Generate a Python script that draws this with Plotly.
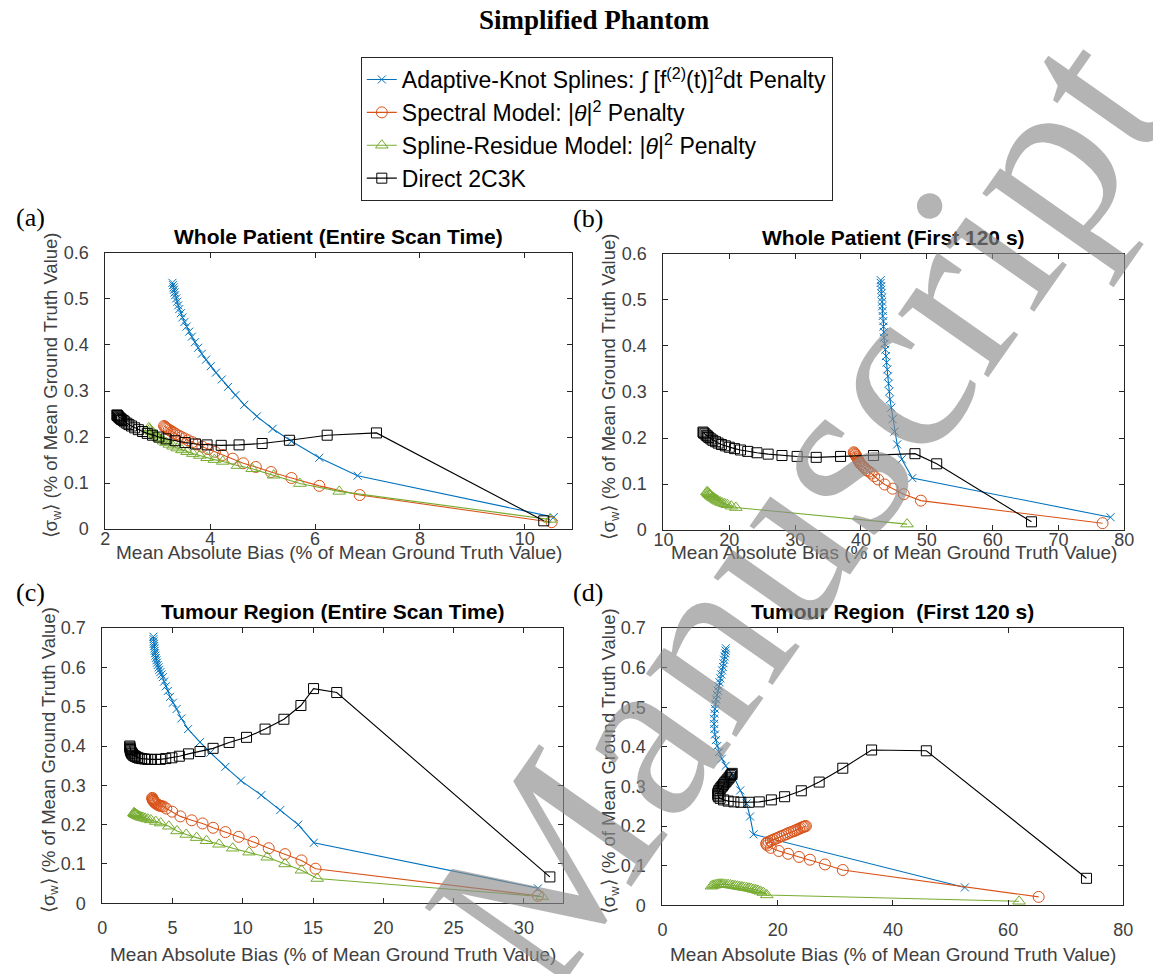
import plotly.graph_objects as go

# ---------------- data ----------------
series_names = [
    "Adaptive-Knot Splines: \u222B [f<sup>(2)</sup>(t)]<sup>2</sup>dt Penalty",
    "Spectral Model: |<i>\u03B8</i>|<sup>2</sup> Penalty",
    "Spline-Residue Model: |<i>\u03B8</i>|<sup>2</sup> Penalty",
    "Direct 2C3K",
]
panel_titles = [
    "Whole Patient (Entire Scan Time)",
    "Whole Patient (First 120 s)",
    "Tumour Region (Entire Scan Time)",
    "Tumour Region  (First 120 s)",
]
panel_labels = ["(a)", "(b)", "(c)", "(d)"]

# (a) Whole patient, entire scan
a_spl_x = [3.28,3.29,3.30,3.31,3.32,3.33,3.35,3.37,3.39,3.41,3.44,3.47,3.51,3.55,3.60,3.65,3.71,3.77,3.84,3.92,4.01,4.11,4.22,4.34,4.48,4.65,4.89,5.19,5.55,6.08,6.81,10.55]
a_spl_y = [0.535,0.530,0.525,0.520,0.514,0.508,0.501,0.494,0.486,0.478,0.469,0.460,0.450,0.440,0.429,0.418,0.406,0.394,0.381,0.368,0.354,0.340,0.325,0.309,0.291,0.270,0.245,0.218,0.191,0.155,0.116,0.026]
a_spec_x = [3.12,3.14,3.16,3.18,3.21,3.24,3.27,3.31,3.35,3.40,3.45,3.51,3.58,3.66,3.75,3.85,3.96,4.09,4.24,4.43,4.63,4.87,5.16,5.55,6.08,6.85,10.51]
a_spec_y = [0.224,0.222,0.220,0.218,0.216,0.214,0.212,0.209,0.206,0.203,0.200,0.197,0.193,0.189,0.184,0.179,0.174,0.168,0.161,0.153,0.143,0.135,0.124,0.111,0.094,0.074,0.015]
a_res_x = [2.83,2.85,2.87,2.89,2.92,2.95,2.98,3.02,3.06,3.11,3.16,3.22,3.29,3.37,3.46,3.56,3.67,3.80,3.94,4.08,4.24,4.52,4.80,5.21,5.71,6.46,10.48]
a_res_y = [0.220,0.217,0.214,0.211,0.208,0.205,0.202,0.198,0.195,0.191,0.188,0.184,0.180,0.176,0.172,0.168,0.164,0.160,0.155,0.151,0.147,0.138,0.131,0.117,0.099,0.082,0.021]
a_dir_x = [2.22,2.23,2.24,2.25,2.27,2.29,2.31,2.34,2.37,2.41,2.45,2.50,2.56,2.63,2.71,2.80,2.90,3.02,3.16,3.33,3.52,3.72,3.94,4.21,4.55,4.99,5.51,6.23,7.17,10.36]
a_dir_y = [0.248,0.247,0.246,0.244,0.242,0.240,0.238,0.236,0.233,0.230,0.227,0.224,0.220,0.216,0.212,0.208,0.204,0.200,0.196,0.192,0.188,0.185,0.183,0.182,0.183,0.186,0.193,0.204,0.209,0.018]

# (b) Whole patient, first 120 s
b_spl_x = [43.0,43.0,43.1,43.1,43.1,43.2,43.2,43.2,43.3,43.3,43.4,43.4,43.5,43.5,43.6,43.7,43.8,43.9,44.0,44.1,44.2,44.3,44.4,44.6,44.8,45.1,45.5,46.2,47.8,77.9]
b_spl_y = [0.543,0.537,0.530,0.522,0.514,0.505,0.496,0.486,0.476,0.465,0.454,0.442,0.430,0.418,0.405,0.392,0.378,0.364,0.349,0.334,0.318,0.301,0.284,0.266,0.241,0.214,0.186,0.154,0.113,0.028]
b_spec_x = [38.9,39.0,39.1,39.2,39.3,39.4,39.5,39.6,39.7,39.8,40.0,40.2,40.4,40.6,40.9,41.2,41.6,42.0,42.6,43.6,44.8,46.5,49.1,76.7]
b_spec_y = [0.169,0.167,0.165,0.163,0.160,0.158,0.155,0.152,0.149,0.146,0.143,0.140,0.137,0.134,0.130,0.127,0.123,0.117,0.110,0.099,0.090,0.078,0.064,0.015]
b_res_x = [16.6,16.7,16.8,16.9,17.0,17.1,17.2,17.4,17.5,17.7,17.9,18.1,18.3,18.6,18.9,19.3,19.7,20.3,21.0,47.0]
b_res_y = [0.083,0.082,0.080,0.079,0.077,0.076,0.074,0.072,0.071,0.069,0.067,0.065,0.063,0.061,0.059,0.057,0.055,0.052,0.049,0.013]
b_dir_x = [16.0,16.1,16.3,16.5,16.7,16.9,17.2,17.5,17.9,18.3,18.8,19.4,20.0,20.8,21.7,22.8,24.2,25.9,28.0,30.3,33.2,36.9,41.9,48.2,51.5,65.9]
b_dir_y = [0.213,0.211,0.209,0.206,0.204,0.201,0.198,0.195,0.192,0.189,0.186,0.183,0.180,0.177,0.174,0.171,0.168,0.165,0.162,0.160,0.158,0.160,0.162,0.166,0.144,0.018]

# (c) Tumour region, entire scan
c_spl_x = [3.63,3.64,3.65,3.66,3.68,3.70,3.72,3.75,3.78,3.81,3.85,3.89,3.94,4.00,4.06,4.13,4.21,4.30,4.40,4.52,4.66,4.82,5.02,5.28,5.62,6.10,6.95,7.69,8.76,9.86,11.31,12.66,13.94,15.05,31.0]
c_spl_y = [0.678,0.672,0.666,0.660,0.654,0.648,0.642,0.636,0.630,0.624,0.618,0.612,0.606,0.600,0.594,0.588,0.582,0.575,0.564,0.552,0.540,0.525,0.510,0.494,0.470,0.443,0.410,0.383,0.347,0.312,0.275,0.237,0.200,0.154,0.038]
c_spec_x = [3.55,3.56,3.58,3.60,3.62,3.65,3.68,3.72,3.76,3.81,3.87,3.94,4.02,4.11,4.22,4.36,4.55,4.97,5.55,6.36,7.13,7.88,8.76,9.70,10.75,11.84,13.0,14.17,15.17,31.0]
c_spec_y = [0.268,0.266,0.264,0.263,0.261,0.260,0.258,0.257,0.255,0.254,0.252,0.251,0.249,0.248,0.247,0.246,0.241,0.233,0.221,0.211,0.203,0.192,0.181,0.169,0.156,0.140,0.125,0.109,0.088,0.019]
c_res_x = [2.25,2.27,2.30,2.33,2.37,2.42,2.48,2.55,2.64,2.75,2.88,3.04,3.23,3.45,3.80,4.15,4.73,5.31,5.97,6.71,7.41,8.30,9.28,10.44,11.73,13.0,14.17,15.29,31.3]
c_res_y = [0.230,0.229,0.228,0.227,0.226,0.225,0.224,0.222,0.221,0.219,0.218,0.216,0.214,0.212,0.208,0.204,0.196,0.184,0.175,0.167,0.159,0.150,0.140,0.130,0.117,0.100,0.084,0.063,0.017]
c_dir_x = [1.95,1.96,1.97,1.99,2.01,2.04,2.08,2.13,2.19,2.27,2.37,2.49,2.63,2.80,3.00,3.23,3.49,3.79,4.13,4.51,4.95,5.48,6.13,6.95,7.88,9.02,10.26,11.58,12.92,14.13,15.03,16.68,31.85]
c_dir_y = [0.400,0.397,0.394,0.391,0.388,0.385,0.382,0.380,0.377,0.375,0.373,0.371,0.369,0.368,0.367,0.366,0.366,0.366,0.366,0.368,0.370,0.374,0.380,0.386,0.394,0.409,0.422,0.443,0.468,0.503,0.546,0.536,0.067]

# (d) Tumour region, first 120 s
d_spl_x = [11.0,10.95,10.9,10.8,10.7,10.6,10.5,10.35,10.2,10.05,9.9,9.75,9.6,9.45,9.3,9.2,9.1,9.0,8.95,8.95,9.0,9.1,9.27,9.5,9.84,10.3,10.97,12.3,13.5,14.6,15.2,15.8,52.5]
d_spl_y = [0.649,0.643,0.636,0.628,0.620,0.611,0.602,0.593,0.583,0.573,0.563,0.553,0.542,0.531,0.520,0.508,0.496,0.484,0.471,0.458,0.445,0.431,0.417,0.402,0.387,0.370,0.352,0.327,0.290,0.257,0.224,0.179,0.045]
d_spec_x = [24.9,24.7,24.5,24.3,24.0,23.7,23.4,23.1,22.8,22.4,22.0,21.6,21.2,20.8,20.4,20.0,19.6,19.2,18.8,18.4,18.1,18.0,18.2,18.8,20.2,21.8,23.7,25.6,28.2,31.3,65.3]
d_spec_y = [0.200,0.199,0.198,0.197,0.195,0.193,0.191,0.189,0.187,0.185,0.183,0.180,0.178,0.175,0.173,0.170,0.168,0.165,0.163,0.160,0.158,0.155,0.151,0.145,0.137,0.130,0.122,0.115,0.103,0.089,0.021]
d_res_x = [8.5,8.8,9.1,9.4,9.7,10.0,10.3,10.6,11.0,11.4,11.8,12.2,12.6,13.0,13.4,13.8,14.2,14.6,15.0,15.4,15.8,16.2,16.6,17.0,17.5,18.1,61.9]
d_res_y = [0.048,0.050,0.051,0.052,0.053,0.053,0.053,0.053,0.052,0.052,0.051,0.050,0.049,0.048,0.047,0.046,0.045,0.044,0.043,0.042,0.040,0.039,0.037,0.035,0.032,0.026,0.010]
d_dir_x = [12.1,12.0,11.8,11.6,11.4,11.2,11.0,10.8,10.6,10.4,10.2,10.0,9.8,9.7,9.6,9.6,9.7,10.0,10.6,11.4,12.4,13.6,15.0,16.8,18.9,21.2,24.1,27.2,31.3,36.3,45.8,73.6]
d_dir_y = [0.333,0.330,0.327,0.323,0.319,0.316,0.312,0.309,0.305,0.301,0.298,0.294,0.290,0.286,0.282,0.278,0.274,0.270,0.266,0.263,0.261,0.260,0.260,0.261,0.266,0.274,0.289,0.311,0.346,0.392,0.390,0.068]

panels = [
    [(a_spl_x, a_spl_y), (a_spec_x, a_spec_y), (a_res_x, a_res_y), (a_dir_x, a_dir_y)],
    [(b_spl_x, b_spl_y), (b_spec_x, b_spec_y), (b_res_x, b_res_y), (b_dir_x, b_dir_y)],
    [(c_spl_x, c_spl_y), (c_spec_x, c_spec_y), (c_res_x, c_res_y), (c_dir_x, c_dir_y)],
    [(d_spl_x, d_spl_y), (d_spec_x, d_spec_y), (d_res_x, d_res_y), (d_dir_x, d_dir_y)],
]
for p in panels:
    for sx, sy in p:
        assert len(sx) == len(sy)

x_ranges = [[2, 10.9], [10, 80], [0, 32.8], [0, 80]]
x_dticks = [2, 10, 5, 20]
y_ranges = [[0, 0.6], [0, 0.6], [0, 0.7], [0, 0.7]]

# ---------------- styling ----------------
W, H = 1153, 974
colors = ["#0072BD", "#D95319", "#77AC30", "#000000"]
symbols = ["x-thin", "circle-open", "triangle-up-open", "square-open"]
msizes = [8, 11, 11, 10]
axis_col = "#262626"
txt_col = "#404040"
font_sans = "Liberation Sans, Arial, sans-serif"
font_serif = "Liberation Serif, Times New Roman, serif"

# plot-area boxes in pixels: left, right, top, bottom
boxes = [(97, 572, 248, 530), (665, 1134, 249, 531), (94, 563, 631, 912), (664, 1133, 631, 914)]
xtitle_y = [554, 554, 964, 964]
xtick_standoff = [-7, -7, 8, 8]

fig = go.Figure()
layout = dict(
    width=W, height=H, margin=dict(l=0, r=0, t=0, b=0),
    paper_bgcolor="white", plot_bgcolor="white",
    font=dict(family=font_sans, color=axis_col),
    showlegend=True,
)
annotations = []
ytitle = "\u27E8\u03C3<sub>w</sub>\u27E9 (% of Mean Ground Truth Value)"
xtitle = "Mean Absolute Bias (% of Mean Ground Truth Value)"

for i, p in enumerate(panels):
    xa = "x" if i == 0 else f"x{i+1}"
    ya = "y" if i == 0 else f"y{i+1}"
    for j, (sx, sy) in enumerate(p):
        mk = dict(symbol=symbols[j], size=msizes[j], color=colors[j],
                  line=dict(color=colors[j], width=1))
        fig.add_trace(go.Scatter(
            x=sx, y=sy, mode="lines+markers", xaxis=xa, yaxis=ya,
            line=dict(color=colors[j], width=1.1), marker=mk,
            name=series_names[j], showlegend=(i == 0),
        ))
    l, r, t, b = boxes[i]
    common = dict(showline=True, mirror="allticks", linecolor=axis_col, linewidth=1,
                  ticks="inside", ticklen=5, tickcolor=axis_col, tickwidth=1,
                  showgrid=False, zeroline=False,
                  tickfont=dict(family=font_sans, size=18, color=txt_col))
    layout["xaxis" if i == 0 else f"xaxis{i+1}"] = dict(
        domain=[l / W, r / W], anchor=ya, range=x_ranges[i], dtick=x_dticks[i], tick0=0,
        ticklabelstandoff=xtick_standoff[i], **common)
    layout["yaxis" if i == 0 else f"yaxis{i+1}"] = dict(
        domain=[1 - b / H, 1 - t / H], anchor=xa, range=y_ranges[i], dtick=0.1, tick0=0,
        ticklabelstandoff=12, **common)
    # x title
    annotations.append(dict(text=xtitle, xref="paper", yref="paper",
                            x=(l + r) / 2 / W, y=1 - xtitle_y[i] / H, xanchor="center", yanchor="middle",
                            showarrow=False, font=dict(family=font_sans, size=19, color=txt_col)))
    # y title
    annotations.append(dict(text=ytitle, xref="paper", yref="paper", textangle=-90,
                            x=(l - 54) / W, y=1 - ((t + b) / 2 - 6) / H, xanchor="center", yanchor="middle",
                            showarrow=False, font=dict(family=font_sans, size=18.5, color=txt_col)))
    # panel title
    annotations.append(dict(text="<b>" + panel_titles[i] + "</b>", xref="paper", yref="paper",
                            x=(l + r) / 2 / W, y=1 - (t - 17) / H, xanchor="center", yanchor="middle",
                            showarrow=False, font=dict(family=font_sans, size=21, color="#000000")))
    # panel label
    annotations.append(dict(text=panel_labels[i], xref="paper", yref="paper",
                            x=(4 if i % 2 == 0 else 571) / W, y=1 - (t - 36) / H,
                            xanchor="left", yanchor="middle", showarrow=False,
                            font=dict(family=font_serif, size=26, color="#000000")))

annotations.append(dict(text="<b>Simplified Phantom</b>", xref="paper", yref="paper",
                        x=595 / W, y=1 - 10 / H, xanchor="center", yanchor="middle", showarrow=False,
                        font=dict(family=font_serif, size=27, color="#000000")))
# watermark
annotations.append(dict(text="Manuscript", xref="paper", yref="paper",
                        x=800 / W, y=1 - 510 / H, xanchor="center", yanchor="middle",
                        textangle=-55, showarrow=False,
                        font=dict(family=font_serif, size=240, color="rgba(140,140,140,0.65)")))

layout["annotations"] = annotations
layout["legend"] = dict(x=357 / W, y=1 - 48 / H, xanchor="left", yanchor="top",
                        bordercolor="#262626", borderwidth=1, bgcolor="white",
                        font=dict(family=font_sans, size=23, color="#000000"),
                        tracegroupgap=0, itemwidth=30)
fig.update_layout(**layout)
fig.write_html("out.html")
